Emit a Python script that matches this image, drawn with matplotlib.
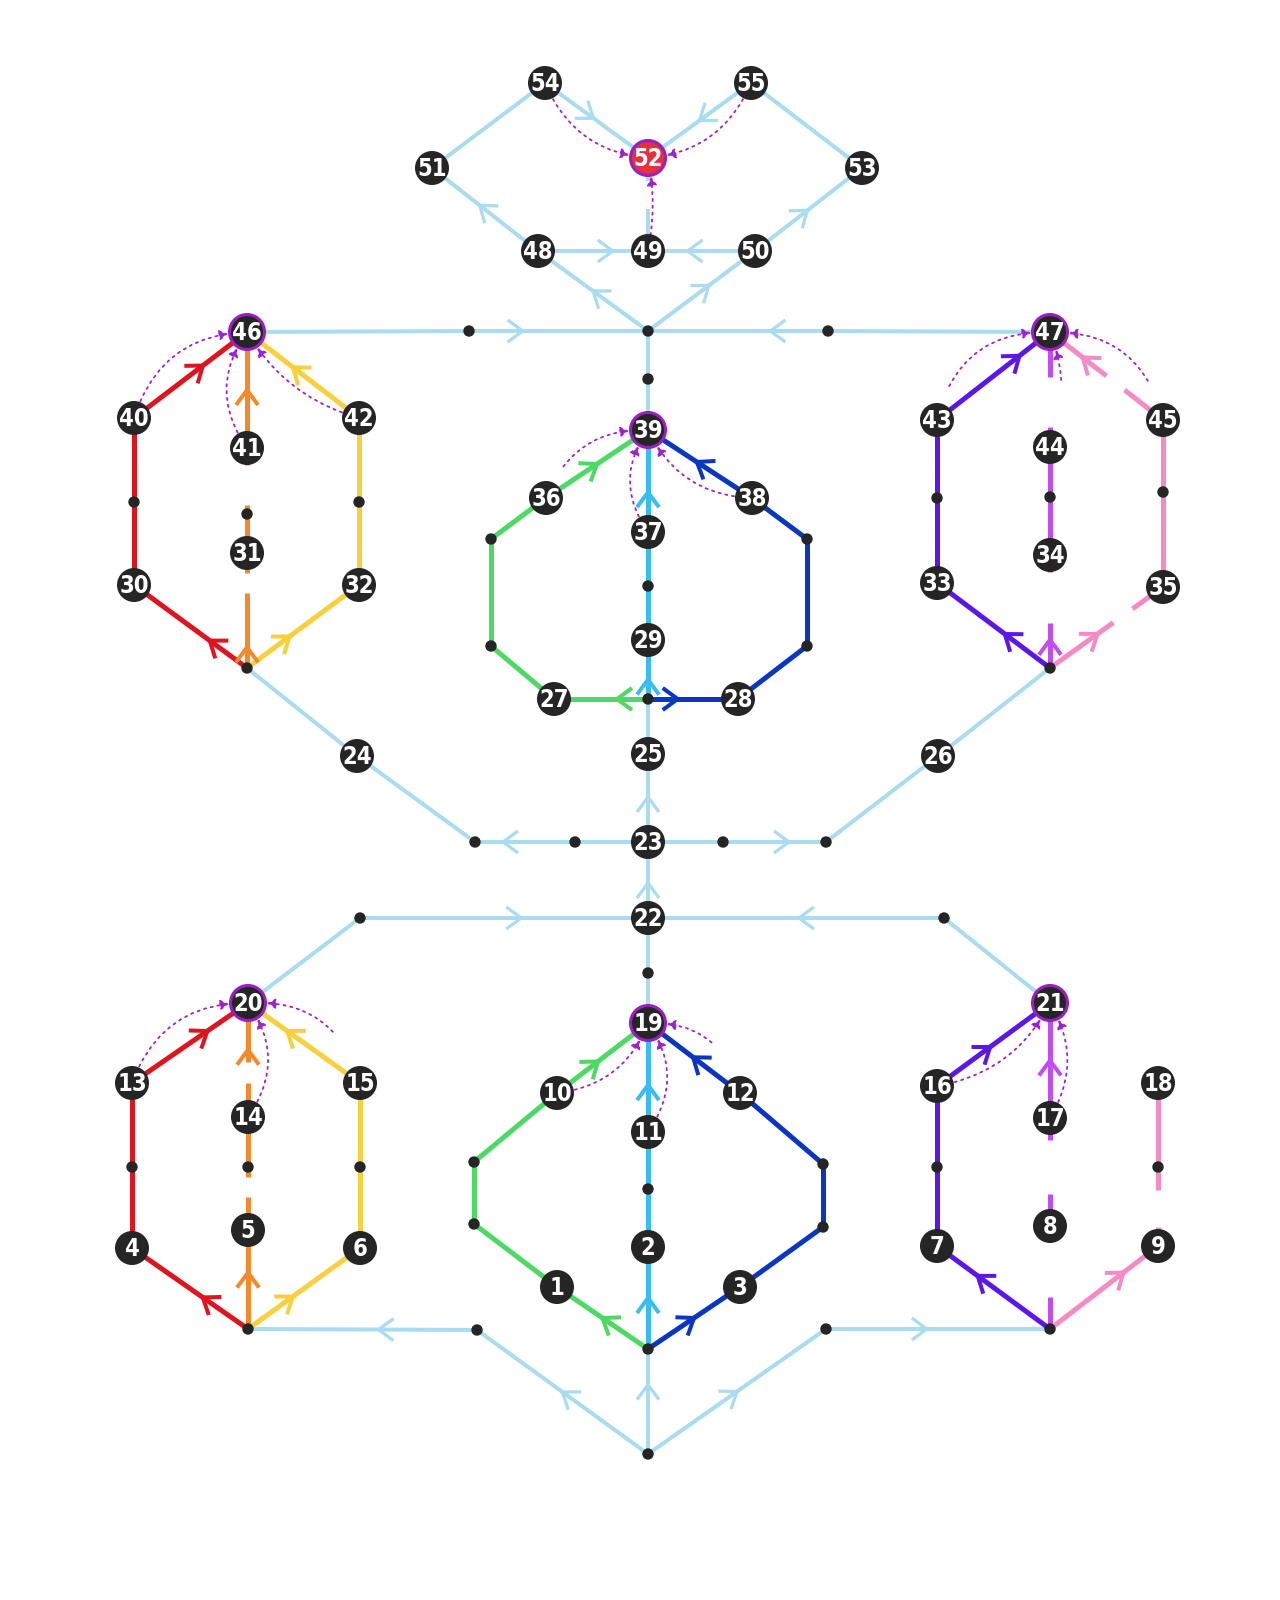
import numpy as np
import matplotlib
matplotlib.use("Agg")
import matplotlib.pyplot as plt
from matplotlib.patches import Circle, FancyArrowPatch

# numbered stations 1..55 (pixels, y down)
node_x = [557, 648, 740, 132, 248, 360, 937, 1050, 1158, 557,
          648, 740, 132, 248, 360, 937, 1050, 1158, 648, 248,
          1050, 648, 648, 357, 648, 938, 554, 738, 648, 134,
          247, 359, 937, 1050, 1163, 546, 648, 752, 648, 134,
          247, 359, 937, 1050, 1163, 247, 1050, 538, 648, 755,
          432, 648, 862, 545, 751]
node_y = [1287, 1247, 1287, 1248, 1230, 1248, 1246, 1226, 1246, 1093,
          1132, 1093, 1083, 1117, 1083, 1086, 1118, 1083, 1023, 1003,
          1003, 918, 842, 756, 754, 756, 699, 699, 640, 585,
          553, 585, 583, 555, 587, 498, 532, 498, 430, 418,
          448, 418, 420, 447, 420, 332, 332, 251, 251, 251,
          168, 158, 168, 83, 83]
node_labels = [str(i) for i in range(1, 56)]
hub_nodes = ['52', '46', '47', '39', '19', '20', '21']

# small junction dots
dot_names = ['jTop', 'dTL', 'dTR', 'dC0', 'bA', 'dA1', 'dA2', 'dA3', 'bB', 'dB1',
             'dB2', 'dB3', 'dCL1', 'dCL2', 'dCR1', 'dCR2', 'dCm', 'jC', 'e23L', 'd23L',
             'd23R', 'e23R', 'd22L', 'd22R', 'd22B', 'dDL1', 'dDL2', 'dDR1', 'dDR2', 'dDm',
             'jD', 'dE1', 'dE2', 'dE3', 'bE', 'dF1', 'dF3', 'bF', 'dBL', 'dBR', 'jBot']
dot_x = [648, 469, 828, 648, 247, 134, 247, 359, 1050, 937,
         1050, 1163, 491, 491, 807, 807, 648, 648, 475, 575,
         723, 826, 360, 944, 648, 474, 474, 823, 823, 648,
         648, 132, 248, 360, 248, 937, 1158, 1050, 477, 826, 648]
dot_y = [331, 331, 331, 379, 668, 502, 514, 502, 668, 498,
         497, 492, 539, 646, 539, 646, 586, 699, 842, 842,
         842, 842, 918, 918, 973, 1162, 1224, 1164, 1227, 1189,
         1349, 1167, 1167, 1167, 1329, 1167, 1167, 1329, 1330, 1329, 1454]

# edges: (from, to, arrow position along edge or None, visible parts or None)
sky_edges = [('54', '51', None, None), ('54', '52', .47, None), ('55', '52', .5, None),
             ('55', '53', None, None), ('48', '51', .55, None), ('48', '49', .68, None),
             ('50', '49', .63, None), ('50', '53', .49, None), ('jTop', '48', .5, None),
             ('jTop', '50', .57, None), ('49', '52', None, [(0, .45), (.75, 1)]),
             ('46', 'dTL', None, None), ('dTL', 'jTop', .3, None),
             ('47', 'dTR', None, None), ('dTR', 'jTop', .32, None),
             ('jTop', 'dC0', None, None), ('dC0', '39', None, None),
             ('bA', '24', None, None), ('24', 'e23L', None, None),
             ('bB', '26', None, None), ('26', 'e23R', None, None),
             ('jC', '25', None, None), ('23', '25', .51, None),
             ('23', 'd23L', None, None), ('d23L', 'e23L', .72, None),
             ('23', 'd23R', None, None), ('d23R', 'e23R', .64, None),
             ('22', '23', .46, None), ('d22L', '22', .56, None), ('d22R', '22', .49, None),
             ('d22L', '20', None, None), ('d22R', '21', None, None),
             ('d22B', '22', None, None), ('19', 'd22B', None, None),
             ('jBot', 'jD', .66, None), ('jBot', 'dBL', .5, None), ('jBot', 'dBR', .5, None),
             ('dBL', 'bE', .43, None), ('dBR', 'bF', .45, None)]
red_edges = [('bA', '30', .33, None), ('30', 'dA1', None, None), ('dA1', '40', None, None),
             ('40', '46', .61, None),
             ('bE', '4', .39, None), ('4', 'dE1', None, None), ('dE1', '13', None, None),
             ('13', '20', .65, None)]
orange_edges = [('bA', '31', .18, [(0, .65), (.83, 1)]), ('31', '41', None, [(0, .46), (.84, 1)]),
                ('41', '46', .5, None),
                ('bE', '5', .57, None), ('5', '14', None, [(0, .29), (.47, 1)]),
                ('14', '20', .59, [(0, .3), (.48, 1)])]
yellow_edges = [('bA', '32', .38, None), ('32', 'dA3', None, None), ('dA3', '42', None, None),
                ('42', '46', .59, None),
                ('bE', '6', .4, None), ('6', 'dE3', None, None), ('dE3', '15', None, None),
                ('15', '20', .65, None)]
violet_edges = [('bB', '33', .4, None), ('33', 'dB1', None, None), ('dB1', '43', None, None),
                ('43', '47', .73, None),
                ('bF', '7', .64, None), ('7', 'dF1', None, None), ('dF1', '16', None, None),
                ('16', '21', .47, None)]
magenta_edges = [('bB', '34', .25, [(0, .4), (.85, 1)]), ('34', '44', None, None),
                 ('44', '47', None, [(0, .17), (.61, 1)]),
                 ('bF', '8', None, [(0, .31)]), ('8', '17', None, [(0, .3), (.8, 1)]),
                 ('17', '21', .5, None)]
pink_edges = [('bB', '35', .42, [(0, .56), (.73, 1)]), ('35', 'dB3', None, None),
              ('dB3', '45', None, None), ('45', '47', .71, [(0, .34), (.5, 1)]),
              ('bF', '9', .68, None), ('9', 'dF3', None, [(0, .24), (.71, 1)]),
              ('dF3', '18', None, None)]
green_edges = [('jC', '27', .33, None), ('27', 'dCL2', None, None), ('dCL2', 'dCL1', None, None),
               ('dCL1', '36', None, None), ('36', '39', .5, None),
               ('jD', '1', .5, None), ('1', 'dDL2', None, None), ('dDL2', 'dDL1', None, None),
               ('dDL1', '10', None, None), ('10', '19', .45, None)]
blue_edges = [('jC', '28', .33, None), ('28', 'dCR2', None, None), ('dCR2', 'dCR1', None, None),
              ('dCR1', '38', None, None), ('38', '39', .53, None),
              ('jD', '3', .5, None), ('3', 'dDR2', None, None), ('dDR2', 'dDR1', None, None),
              ('dDR1', '12', None, None), ('12', '19', .51, None)]
cyan_edges = [('jC', '29', .33, None), ('29', 'dCm', None, None), ('dCm', '37', None, None),
              ('37', '39', .39, None),
              ('jD', '2', .5, None), ('2', 'dDm', None, None), ('dDm', '11', None, None),
              ('11', '19', .43, None)]

# dotted transfers: (from, to, bend, gap at start in px)
transfers = [('54', '52', .3, 18), ('55', '52', -.3, 18), ('49', '52', .1, 16),
             ('40', '46', -.35, 18), ('41', '46', -.35, 18), ('42', '46', -.2, 18),
             ('43', '47', -.4, 36), ('44', '47', .2, 68), ('45', '47', .4, 42),
             ('36', '39', -.35, 36), ('37', '39', -.35, 18), ('38', '39', -.3, 18),
             ('10', '19', .3, 18), ('11', '19', .35, 18), ('12', '19', .4, 58),
             ('13', '20', -.35, 18), ('14', '20', .35, 18), ('15', '20', .4, 58),
             ('16', '21', .25, 18), ('17', '21', .3, 18)]

colors = {'sky': '#a9dcef', 'red': '#e0141e', 'orange': '#f5892a', 'yellow': '#f8d03c',
          'violet': '#5b17e8', 'magenta': '#c24cf2', 'pink': '#f58ac4', 'green': '#4cd964',
          'blue': '#0a36c2', 'cyan': '#38bdf0'}
groups = [('sky', sky_edges), ('red', red_edges), ('orange', orange_edges),
          ('yellow', yellow_edges), ('violet', violet_edges), ('magenta', magenta_edges),
          ('pink', pink_edges), ('green', green_edges), ('blue', blue_edges),
          ('cyan', cyan_edges)]

P = {}
for k, x, y in zip(node_labels, node_x, node_y):
    P[k] = np.array([x, y], dtype=float)
for k, x, y in zip(dot_names, dot_x, dot_y):
    P[k] = np.array([x, y], dtype=float)

fig = plt.figure(figsize=(12.8, 16), dpi=100)
ax = fig.add_axes([0, 0, 1, 1])
ax.set_xlim(0, 1280)
ax.set_ylim(1600, 0)
ax.set_aspect('equal')
ax.axis('off')


def chevron(p, u, col, lw):
    n = np.array([-u[1], u[0]])
    a = p - 15 * u + 11 * n
    b = p - 15 * u - 11 * n
    ax.plot([a[0], p[0], b[0]], [a[1], p[1], b[1]], color=col, lw=lw,
            solid_capstyle='butt', solid_joinstyle='miter', zorder=2)


for cname, elist in groups:
    col = colors[cname]
    lw = 2.9 if cname == 'sky' else 3.6
    for a, b, t, vis in elist:
        p, q = P[a], P[b]
        for t0, t1 in (vis or [(0, 1)]):
            s = p + (q - p) * t0
            e = p + (q - p) * t1
            ax.plot([s[0], e[0]], [s[1], e[1]], color=col, lw=lw,
                    solid_capstyle='butt', zorder=1)
        if t is not None:
            u = (q - p) / np.linalg.norm(q - p)
            chevron(p + (q - p) * t, u, col, lw * 0.8)

px = 0.72  # points per pixel
for a, b, rad, gap in transfers:
    arr = FancyArrowPatch(P[a], P[b], connectionstyle=f'arc3,rad={rad}',
                          arrowstyle='-|>,head_length=0.5,head_width=0.3',
                          mutation_scale=10, color='#a020d0', lw=1.3,
                          linestyle=(0, (1.2, 2.6)), shrinkA=gap * px,
                          shrinkB=19 * px, zorder=4)
    ax.add_patch(arr)

for k in dot_names:
    ax.add_patch(Circle(P[k], 5, color='#252525', zorder=3))

for k in node_labels:
    if k in hub_nodes:
        face = '#e3323d' if k == '52' else '#252525'
        ax.add_patch(Circle(P[k], 17.5, facecolor=face, edgecolor='#9b1fc0',
                            lw=2.2, zorder=5))
    else:
        ax.add_patch(Circle(P[k], 17, facecolor='#252525', edgecolor='none', zorder=5))
    ax.text(P[k][0], P[k][1] + 1, k, color='white', fontsize=17, fontweight='bold',
            fontstretch='condensed', ha='center', va='center', zorder=6,
            family=['DejaVu Sans'])

fig.savefig('out.png', dpi=100, facecolor='white')
